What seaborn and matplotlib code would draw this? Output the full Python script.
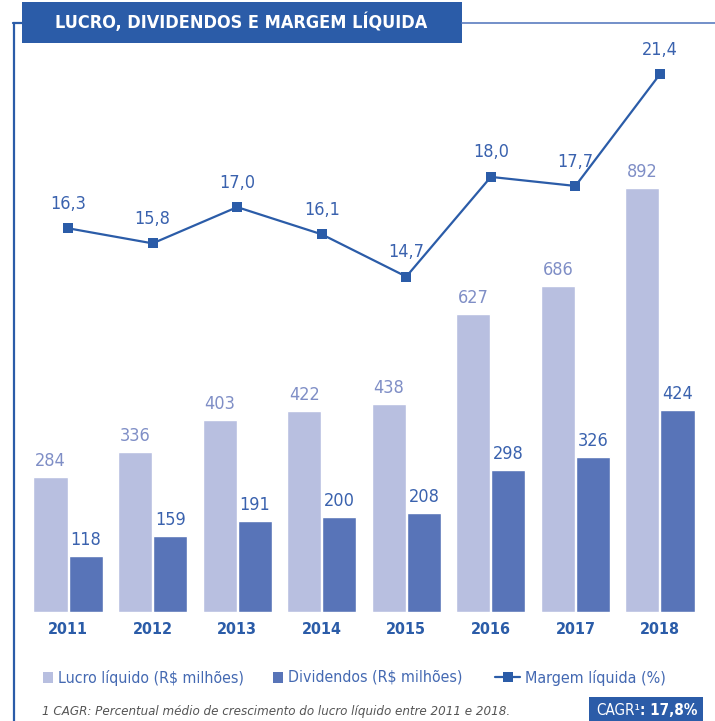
import matplotlib
matplotlib.use('Agg')
import pandas as pd
import matplotlib.pyplot as plt
import seaborn as sns
from matplotlib.patches import Rectangle
from matplotlib.lines import Line2D

# Dados do grafico
anos = ['2011', '2012', '2013', '2014', '2015', '2016', '2017', '2018']
lucro = [284, 336, 403, 422, 438, 627, 686, 892]
dividendos = [118, 159, 191, 200, 208, 298, 326, 424]
margem = [16.3, 15.8, 17.0, 16.1, 14.7, 18.0, 17.7, 21.4]
series = ['Lucro líquido (R$ milhões)', 'Dividendos (R$ milhões)']
serie_linha = 'Margem líquida (%)'
titulo = 'LUCRO, DIVIDENDOS E MARGEM LÍQUIDA'
nota = '1 CAGR: Percentual médio de crescimento do lucro líquido entre 2011 e 2018.'
cagr = ': 17,8%'

# Cores
azul = '#2B5CA8'
claro = '#B8BFE0'
escuro = '#5874B8'
txt_claro = '#7F8EC6'
txt_escuro = '#3A62AE'
leg_cor = '#4469B2'

sns.set_style('white')
plt.rcParams['font.family'] = ['DejaVu Sans']
cond = dict(family='DejaVu Sans', stretch='condensed')

W, H = 715, 721


def fx(x):
    return x / W


def fy(y):
    return 1 - y / H


def ajusta(t, largura):
    # reduz a fonte ate o texto caber na largura em pixels
    fig.canvas.draw()
    w = t.get_window_extent().width
    t.set_fontsize(t.get_fontsize() * largura / w)


df = pd.DataFrame({
    'ano': anos * 2,
    'valor': lucro + dividendos,
    'serie': [series[0]] * len(anos) + [series[1]] * len(anos),
})

fig = plt.figure(figsize=(W / 100, H / 100), dpi=100)
ax = fig.add_axes([fx(17.3), fy(612), (710.7 - 17.3) / W, 562 / H])

sns.barplot(data=df, x='ano', y='valor', hue='serie', palette=[claro, escuro],
            width=0.83, gap=0.03, saturation=1, legend=False, ax=ax)
for cont, cor in zip(ax.containers, [txt_claro, txt_escuro]):
    ax.bar_label(cont, padding=5, color=cor, fontsize=13, **cond)

ax.set_ylim(0, 1182)
ax.set_yticks([])
ax.set_xlabel('')
ax.set_ylabel('')
sns.despine(ax=ax, left=True, bottom=True)

# Linha da margem em eixo secundario
ax2 = ax.twinx()
sns.pointplot(x=anos, y=margem, ax=ax2, color=azul, marker='s', markersize=7,
              linewidth=1.6, errorbar=None, markeredgewidth=0)
for i, v in enumerate(margem):
    ax2.annotate(f'{v:.1f}'.replace('.', ','), xy=(i, v), xytext=(0, 14),
                 textcoords='offset points', ha='center', va='baseline',
                 color=txt_escuro, fontsize=13, **cond)
ax2.set_ylim(3.6, 22.2)
ax2.set_yticks([])
ax2.set_ylabel('')
sns.despine(ax=ax2, left=True, bottom=True, right=True)

for a in (ax, ax2):
    a.set_xlim(-0.6, 7.6)
ax.tick_params(axis='x', length=0, pad=7)
for lbl in ax.get_xticklabels():
    lbl.set_fontweight('bold')
    lbl.set_color(azul)
    lbl.set_fontsize(11.5)
    lbl.set_family('DejaVu Sans')
    lbl.set_stretch('condensed')

# Titulo e moldura
fig.add_artist(Rectangle((fx(22), fy(43)), (462 - 22) / W, 41 / H,
                         transform=fig.transFigure, color=azul, lw=0))
fig.text(fx(241), fy(22.5), titulo, color='white', fontweight='bold',
         fontsize=13, ha='center', va='center', **cond)
fig.add_artist(Line2D([fx(14), fx(14)], [fy(23), fy(721)],
                      transform=fig.transFigure, color=azul, lw=1.6))
fig.add_artist(Line2D([fx(13.3), fx(22)], [fy(23), fy(23)],
                      transform=fig.transFigure, color=azul, lw=1.6))
fig.add_artist(Line2D([fx(462), fx(715)], [fy(23), fy(23)],
                      transform=fig.transFigure, color='#5B7DC0', lw=1.2))

# Legenda
fig.add_artist(Rectangle((fx(43), fy(683)), 10 / W, 11 / H,
                         transform=fig.transFigure, color=claro, lw=0))
t = fig.text(fx(58), fy(677.5), series[0], color=leg_cor, fontsize=11.5,
             va='center', **cond)
ajusta(t, 186)
fig.add_artist(Rectangle((fx(273), fy(683)), 10 / W, 11 / H,
                         transform=fig.transFigure, color=escuro, lw=0))
t = fig.text(fx(288), fy(677.5), series[1], color=leg_cor, fontsize=11.5,
             va='center', **cond)
ajusta(t, 176)
fig.add_artist(Line2D([fx(495), fx(520)], [fy(677), fy(677)],
                      transform=fig.transFigure, color=azul, lw=1.6))
fig.add_artist(Line2D([fx(507.5)], [fy(677)], transform=fig.transFigure,
                      color=azul, marker='s', markersize=7, markeredgewidth=0))
t = fig.text(fx(525), fy(677.5), serie_linha, color=leg_cor, fontsize=11.5,
             va='center', **cond)
ajusta(t, 141)

# Nota de rodape
t = fig.text(fx(42), fy(712), nota, style='italic', color='#555555',
             fontsize=10, va='center', **cond)
ajusta(t, 470)

# Caixa CAGR
fig.add_artist(Rectangle((fx(589), fy(721)), (703 - 589) / W, 24 / H,
                         transform=fig.transFigure, color=azul, lw=0))
t1 = fig.text(fx(596), fy(710.5), 'CAGR¹', color='white', fontsize=11,
              va='center', **cond)
fig.canvas.draw()
bb = t1.get_window_extent()
t2 = fig.text(bb.x1 / W, fy(710.5), cagr, color='white', fontsize=11,
              va='center', fontweight='bold', **cond)
fig.canvas.draw()
larg = t2.get_window_extent().x1 - bb.x0
if larg > 101:
    for tt in (t1, t2):
        tt.set_fontsize(11 * 101 / larg)
    fig.canvas.draw()
    t2.set_x(t1.get_window_extent().x1 / W)

fig.savefig('out.png', dpi=100)
